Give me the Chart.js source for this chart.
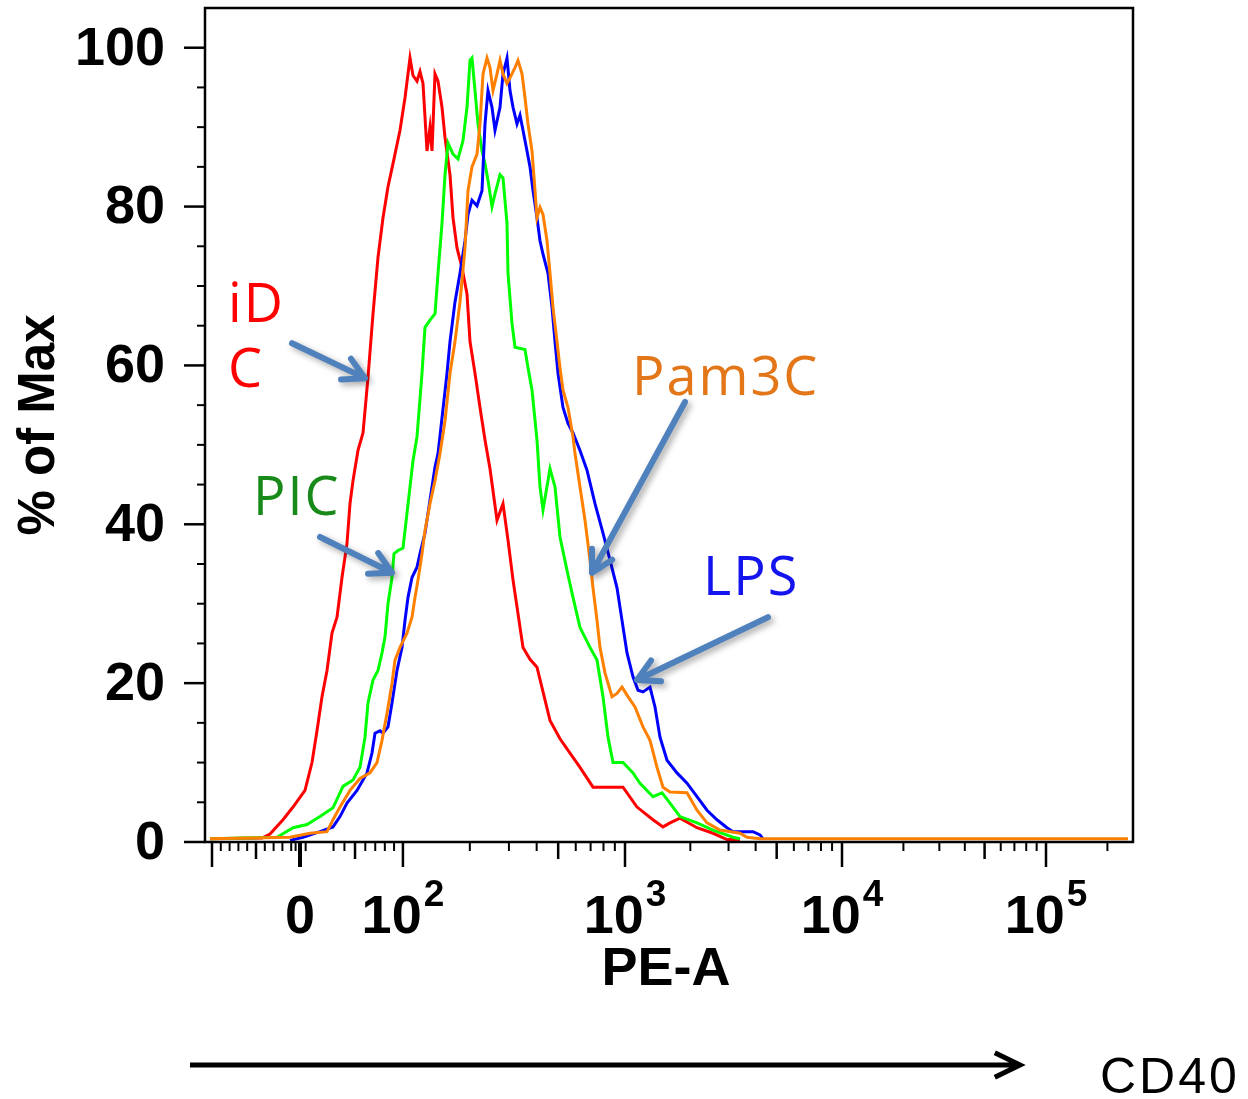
<!DOCTYPE html>
<html>
<head>
<meta charset="utf-8">
<title>CD40 PE-A histogram</title>
<script src="https://cdn.jsdelivr.net/npm/chart.js@4.4.1/dist/chart.umd.min.js"></script>
<style>
    body { margin: 0; background: #fff; }
    #wrap { width: 1248px; height: 1099px; }
</style>
</head>
<body>
<div id="wrap"><canvas id="histChart" width="1248" height="1099"></canvas></div>
<script>
// Histogram data, x in display channels of the PE-A axis, y in % of Max

const idcChannels = [5, 57, 65, 78, 88, 100, 107, 112, 117, 122, 127, 132, 137, 142, 145, 148, 153, 158, 163, 168,
    173, 178, 183, 188, 195, 200, 205, 208, 212, 215, 218, 222, 225, 227, 230, 233, 237, 240, 245, 248,
    252, 257, 262, 265, 270, 275, 280, 285, 292, 298, 303, 308, 318, 325, 332, 345, 355, 365, 375, 388,
    418, 432, 448, 458, 465, 475, 492, 508, 522, 535];
const idcValues = [0.4, 0.5, 1.0, 2.8, 4.4, 6.5, 10, 14, 18.3, 21.6, 26.3, 28.3, 33.3, 37.6, 42.6, 45.5, 49.3, 51.5, 58.5, 66.5,
    73.6, 78.6, 82.5, 85.4, 89.6, 93.7, 98.7, 96.5, 95.8, 97, 95.5, 87, 90, 87, 96.7, 95.8, 92.5, 88.7, 84, 78.6,
    74.8, 72.3, 69, 63, 59, 54.7, 50.6, 47, 40.5, 42.6, 38, 33, 24.5, 23, 22, 15.3, 13, 11.2, 9.4, 6.9,
    6.9, 4.4, 2.8, 1.9, 2.4, 3, 1.8, 1.1, 0.3, 0.3];

const picChannels = [5, 72, 88, 102, 115, 128, 138, 148, 155, 160, 163, 168, 173, 177, 180, 183, 187, 189, 193, 198,
    202, 205, 208, 212, 217, 220, 225, 230, 233, 237, 240, 243, 248, 253, 258, 262, 265, 267, 270, 273,
    277, 280, 283, 287, 290, 295, 298, 302, 303, 307, 310, 320, 323, 327, 332, 335, 338, 345, 350, 355,
    362, 368, 375, 385, 392, 398, 403, 408, 418, 428, 435, 448, 457, 465, 475, 492, 508, 528, 535];
const picValues = [0.4, 0.6, 1.8, 2.2, 3.2, 4.3, 7, 7.8, 9.4, 13.2, 17.5, 20.4, 21.6, 23.8, 25.8, 30, 33.3, 36.3, 36.7, 37,
    41.4, 44.7, 48, 51, 59, 64.8, 65.7, 66.5, 71.6, 77.9, 84, 88, 86.6, 86, 88.3, 92.5, 98.4, 98.7, 94.6, 90.4,
    87, 85.4, 83.3, 80, 81.6, 84, 83.6, 77.9, 71.6, 65.3, 62.3, 62, 59.7, 56.9, 50.6, 44.7, 41.8, 47, 44.7, 38.4,
    34.2, 30.8, 27, 24.5, 22.9, 18.3, 13.2, 10, 10, 8.7, 7.4, 5.7, 6.2, 4.9, 3.2, 2.4, 1.5, 0.6, 0.4];

const lpsChannels = [85, 98, 115, 128, 135, 142, 152, 162, 167, 170, 175, 178, 183, 187, 192, 197, 200, 203, 207, 212,
    215, 220, 223, 227, 230, 233, 242, 245, 250, 255, 260, 263, 267, 272, 277, 280, 283, 287, 290, 295,
    298, 302, 305, 308, 312, 315, 318, 322, 325, 328, 332, 335, 338, 343, 347, 350, 353, 358, 363, 368,
    375, 382, 390, 398, 405, 412, 417, 422, 428, 433, 438, 445, 450, 455, 462, 472, 482, 492, 502, 512,
    522, 528, 548, 555, 558];
const lpsValues = [0.2, 0.6, 1.3, 1.9, 3.2, 4.9, 6.5, 8.7, 11.2, 13.7, 14, 13.7, 14.5, 17.5, 21.6, 24.5, 27.9, 30.8, 33.3, 34.6,
    36.3, 38.9, 41.4, 44.7, 47.2, 48.9, 59, 63, 68, 71.6, 75.7, 79, 80.8, 80.1, 82, 90.4, 94.6, 92.5, 89.6, 92.5,
    96.7, 98.7, 94.6, 92.5, 90.4, 91.5, 89.6, 87, 85, 82, 78.6, 75.7, 74, 71.6, 67.3, 63, 59, 54.7, 52.7, 51.5,
    49.3, 46.8, 42.6, 38.9, 35.5, 32, 27.9, 23.8, 20.8, 19.1, 18.9, 19.5, 17, 13.2, 10.3, 8.7, 7.4, 5.7, 4, 2.8,
    1.8, 1.3, 1.3, 0.9, 0.4];

const pamChannels = [5, 85, 105, 122, 128, 135, 145, 155, 165, 172, 177, 182, 187, 190, 195, 202, 207, 210, 213, 217,
    220, 225, 230, 235, 240, 245, 250, 255, 260, 263, 267, 272, 275, 278, 282, 285, 288, 292, 295, 298,
    302, 305, 310, 313, 317, 320, 323, 327, 330, 332, 335, 338, 342, 345, 348, 352, 355, 358, 363, 368,
    370, 375, 380, 385, 388, 392, 395, 400, 407, 412, 417, 423, 430, 438, 445, 452, 458, 465, 482, 492,
    502, 515, 535, 542, 555, 923];
const pamValues = [0.4, 0.6, 1.1, 1.3, 2.8, 4.4, 6.5, 8, 8.7, 10, 12.8, 16.2, 20, 22.9, 24.5, 26.3, 28.3, 30.8, 33, 36.3,
    39.2, 42.6, 45.5, 48.9, 53, 59, 63, 68, 74.8, 82, 85, 86.6, 90.4, 96.7, 98.7, 97.5, 94.6, 96.7, 98.4, 96.7,
    95.5, 96.2, 97.5, 98.4, 96.7, 93.7, 90.4, 87, 82, 78.6, 79.9, 79, 75.7, 71.6, 67.3, 63, 59.7, 56.9, 54.7, 51,
    48.9, 44.7, 40.5, 35.5, 32, 27.9, 24.5, 21.3, 18.3, 18.7, 19.5, 18.3, 17, 14.5, 12.8, 9.4, 6.9, 6.3, 6.2, 4,
    2.4, 1.5, 1.1, 0.6, 0.4, 0.4];

// Axis ticks (PE-A values) and labels
const yMajorTicks = [0, 20, 40, 60, 80, 100];
const yMinorTicks = [5, 10, 15, 25, 30, 35, 45, 50, 55, 65, 70, 75, 85, 90, 95];
const xMajorTicks = [-100, 0, 100, 1000, 10000, 100000];
const xMediumTicks = [-50, 50, 500, 5000, 50000];
const xMinorTicks = [-90, -80, -70, -60, -40, -30, -20, -10, -5, 5, 30, 40, 60, 70, 80, 90,
    200, 300, 400, 600, 700, 800, 900, 2000, 3000, 4000, 6000, 7000, 8000, 9000,
    20000, 30000, 40000, 60000, 70000, 80000, 90000, 200000];
const xTickLabels = [
    { value: 0, base: '0', exp: '' },
    { value: 100, base: '10', exp: '2' },
    { value: 1000, base: '10', exp: '3' },
    { value: 10000, base: '10', exp: '4' },
    { value: 100000, base: '10', exp: '5' }
];
const seriesNames = ['Pam3C', 'LPS', 'PIC', 'iDC'];


// Function to turn a PE-A value into a display channel (linear below 0, asinh up to 100, log decades above)
function peToChannel(v) {
    if (v < 0) return 95 + v * 0.88;
    if (v <= 100) return 95 + 135.7 * Math.asinh(v / 120);
    const decadePos = [198, 420, 637, 841];
    const d = Math.log10(v);
    if (d >= 5) return 841 + (d - 5) * 204;
    const i = Math.floor(d) - 2;
    return decadePos[i] + (d - Math.floor(d)) * (decadePos[i + 1] - decadePos[i]);
}

// Function to zip channel and value arrays into points
function toPoints(xs, ys) {
    return xs.map((x, i) => ({ x: x, y: ys[i] }));
}

// Function to draw an arrow with a V head
function drawArrow(ctx, x1, y1, x2, y2, head, spread) {
    const ang = Math.atan2(y2 - y1, x2 - x1);
    ctx.beginPath();
    ctx.moveTo(x1, y1);
    ctx.lineTo(x2, y2);
    ctx.moveTo(x2 - head * Math.cos(ang - spread), y2 - head * Math.sin(ang - spread));
    ctx.lineTo(x2, y2);
    ctx.lineTo(x2 - head * Math.cos(ang + spread), y2 - head * Math.sin(ang + spread));
    ctx.stroke();
}

// Plugin drawing the frame, ticks, labels and the annotations
const decorPlugin = {
    id: 'decor',
    afterDraw(chart) {
        const ctx = chart.ctx;
        const xs = chart.scales.x;
        const ys = chart.scales.y;
        const area = chart.chartArea;
        const bold = size => 'bold ' + size + 'px "Liberation Sans", Arial, sans-serif';
        ctx.save();

        // frame
        ctx.strokeStyle = '#000';
        ctx.lineWidth = 2.5;
        ctx.strokeRect(area.left, area.top, area.right - area.left, area.bottom - area.top);

        // y ticks
        yMajorTicks.forEach(v => {
            const py = ys.getPixelForValue(v);
            ctx.beginPath(); ctx.moveTo(area.left - 21, py); ctx.lineTo(area.left, py); ctx.stroke();
        });
        ctx.lineWidth = 2;
        yMinorTicks.forEach(v => {
            const py = ys.getPixelForValue(v);
            ctx.beginPath(); ctx.moveTo(area.left - 8, py); ctx.lineTo(area.left, py); ctx.stroke();
        });
        ctx.fillStyle = '#000';
        ctx.font = bold(54);
        ctx.textAlign = 'right';
        ctx.textBaseline = 'middle';
        yMajorTicks.forEach(v => {
            ctx.fillText(String(v), area.left - 40, ys.getPixelForValue(v) + 2);
        });

        // x ticks
        const tick = (v, len, w) => {
            const px = xs.getPixelForValue(peToChannel(v));
            ctx.lineWidth = w;
            ctx.beginPath(); ctx.moveTo(px, area.bottom); ctx.lineTo(px, area.bottom + len); ctx.stroke();
        };
        xMajorTicks.forEach(v => tick(v, 25, v === 0 ? 4 : 2.5));
        xMediumTicks.forEach(v => tick(v, 17, 2.5));
        xMinorTicks.forEach(v => tick(v, 9, 2));

        // x tick labels with exponents
        ctx.textAlign = 'left';
        ctx.textBaseline = 'alphabetic';
        xTickLabels.forEach(t => {
            const cx = xs.getPixelForValue(peToChannel(t.value));
            ctx.font = bold(54);
            const wb = ctx.measureText(t.base).width;
            ctx.font = bold(37);
            const we = t.exp ? ctx.measureText(t.exp).width + 2 : 0;
            const x0 = cx - (wb + we) / 2;
            ctx.font = bold(54);
            ctx.fillText(t.base, x0, 933);
            if (t.exp) {
                ctx.font = bold(37);
                ctx.fillText(t.exp, x0 + wb + 2, 906);
            }
        });

        // axis titles
        ctx.font = bold(54);
        ctx.textAlign = 'center';
        ctx.fillText('PE-A', (area.left + area.right) / 2 - 3, 985);
        ctx.save();
        ctx.translate(40, (area.top + area.bottom) / 2);
        ctx.rotate(-Math.PI / 2);
        ctx.textBaseline = 'middle';
        ctx.font = bold(51);
        ctx.fillText('% of Max', 0, 0);
        ctx.restore();

        // series labels
        const px = c => xs.getPixelForValue(c);
        const py = v => ys.getPixelForValue(v);
        ctx.font = '54px "Open Sans", sans-serif';
        ctx.textAlign = 'left';
        ctx.letterSpacing = '2px';
        ctx.fillStyle = '#ff0000';
        ctx.fillText('iD', px(23), py(65.5));
        ctx.fillText('C', px(23), py(57.3));
        ctx.fillStyle = '#188a1a';
        ctx.fillText('PIC', px(48), py(41.2));
        ctx.fillStyle = '#e4761a';
        ctx.fillText(seriesNames[0], px(427), py(56.3));
        ctx.fillStyle = '#1414ee';
        ctx.fillText(seriesNames[1], px(498), py(31.1));
        ctx.letterSpacing = '0px';

        // pointer arrows
        ctx.save();
        ctx.strokeStyle = '#4f81bd';
        ctx.lineWidth = 6;
        ctx.lineCap = 'round';
        ctx.lineJoin = 'round';
        ctx.shadowColor = 'rgba(0,0,0,0.35)';
        ctx.shadowBlur = 6;
        ctx.shadowOffsetX = 3;
        ctx.shadowOffsetY = 3;
        drawArrow(ctx, px(87), py(62.8), px(160), py(58.4), 24, 0.5);
        drawArrow(ctx, px(115), py(38.4), px(187), py(33.9), 24, 0.5);
        drawArrow(ctx, px(480), py(55.4), px(387), py(33.9), 24, 0.5);
        drawArrow(ctx, px(563), py(28.3), px(432), py(20.4), 24, 0.5);
        ctx.restore();

        // CD40 arrow under the plot
        ctx.strokeStyle = '#000';
        ctx.lineWidth = 5;
        ctx.lineJoin = 'miter';
        drawArrow(ctx, area.left - 15, 1065, area.left + 815, 1065, 28, 0.45);
        ctx.fillStyle = '#000';
        ctx.font = '50px "Liberation Sans", Arial, sans-serif';
        ctx.letterSpacing = '3px';
        ctx.textAlign = 'left';
        ctx.fillText('CD40', 1100, 1093);

        ctx.restore();
    }
};

// Function to render the overlay histogram
function renderHistogram() {
    const ctx = document.getElementById('histChart').getContext('2d');
    new Chart(ctx, {
        type: 'line',
        data: {
            datasets: [
                { label: seriesNames[0], data: toPoints(pamChannels, pamValues), borderColor: '#ff8000' },
                { label: seriesNames[1], data: toPoints(lpsChannels, lpsValues), borderColor: '#0000ff' },
                { label: seriesNames[2], data: toPoints(picChannels, picValues), borderColor: '#00ff00' },
                { label: seriesNames[3], data: toPoints(idcChannels, idcValues), borderColor: '#ff0000' }
            ]
        },
        options: {
            responsive: false,
            animation: false,
            devicePixelRatio: 1,
            layout: { padding: { left: 205, right: 115, top: 8, bottom: 257 } },
            elements: {
                line: { borderWidth: 3, tension: 0, fill: false },
                point: { radius: 0 }
            },
            plugins: { legend: { display: false }, tooltip: { enabled: false } },
            scales: {
                x: { type: 'linear', min: 0, max: 928, display: false },
                y: { type: 'linear', min: 0, max: 105, display: false }
            }
        },
        plugins: [decorPlugin]
    });
}

document.addEventListener('DOMContentLoaded', renderHistogram);
</script>
</body>
</html>
